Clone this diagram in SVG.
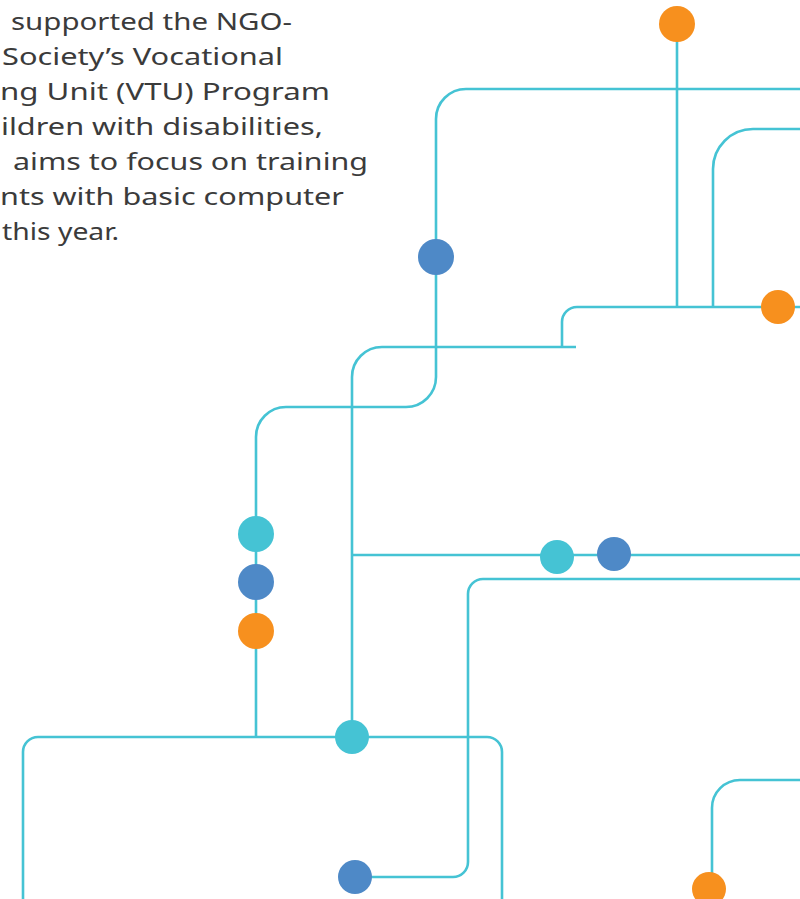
<svg xmlns="http://www.w3.org/2000/svg" width="800" height="899" viewBox="0 0 800 899">
  <style>
    .ln { fill: none; stroke: #45C3D4; stroke-width: 2.6; }
    .cy { fill: #45C3D4; }
    .bl { fill: #4E89C7; }
    .or { fill: #F7901E; }
    .tx { font-family: "Noto Sans", "Open Sans", sans-serif; font-size: 23px; fill: #3B3B3B; }
  </style>
  <rect width="800" height="899" fill="#FFFFFF"/>

  <!-- paragraph, cut at the left edge -->
  <g id="paragraph" class="tx">
    <text x="11" y="30" textLength="281" lengthAdjust="spacingAndGlyphs">supported the NGO-</text>
    <text x="2" y="65" textLength="281" lengthAdjust="spacingAndGlyphs">Society’s Vocational</text>
    <text x="0" y="100" textLength="330" lengthAdjust="spacingAndGlyphs">ng Unit (VTU) Program</text>
    <text x="1" y="135" textLength="322" lengthAdjust="spacingAndGlyphs">ildren with disabilities,</text>
    <text x="13" y="170" textLength="355" lengthAdjust="spacingAndGlyphs">aims to focus on training</text>
    <text x="0" y="205" textLength="344" lengthAdjust="spacingAndGlyphs">nts with basic computer</text>
    <text x="2" y="240" textLength="117" lengthAdjust="spacingAndGlyphs">this year.</text>
  </g>

  <!-- circuit-style line network -->
  <g id="connectors">
    <path class="ln" d="M677 24 V307"/>
    <path class="ln" d="M800 89 H466 A30 30 0 0 0 436 119 V377 A30 30 0 0 1 406 407 H286 A30 30 0 0 0 256 437 V737"/>
    <path class="ln" d="M800 129 H753 A40 40 0 0 0 713 169 V307"/>
    <path class="ln" d="M562 347 V322 A15 15 0 0 1 577 307 H800"/>
    <path class="ln" d="M576 347 H382 A30 30 0 0 0 352 377 V737"/>
    <path class="ln" d="M352 555 H800"/>
    <path class="ln" d="M800 579 H483 A15 15 0 0 0 468 594 V862 A15 15 0 0 1 453 877 H355"/>
    <path class="ln" d="M23 899 V752 A15 15 0 0 1 38 737 H487 A15 15 0 0 1 502 752 V899"/>
    <path class="ln" d="M800 780 H740 A28 28 0 0 0 712 808 V889"/>
  </g>

  <!-- dots on the lines -->
  <g id="dot-top" ><circle class="or" cx="677" cy="24" r="18"/></g>
  <g id="dot-upper-left"><circle class="bl" cx="436" cy="257" r="18"/></g>
  <g id="dot-upper-right"><circle class="or" cx="778" cy="307" r="17"/></g>
  <g id="dot-col-1"><circle class="cy" cx="256" cy="534" r="18"/></g>
  <g id="dot-col-2"><circle class="bl" cx="256" cy="582" r="18"/></g>
  <g id="dot-col-3"><circle class="or" cx="256" cy="631" r="18"/></g>
  <g id="dot-mid-1"><circle class="cy" cx="557" cy="557" r="17"/></g>
  <g id="dot-mid-2"><circle class="bl" cx="614" cy="554" r="17"/></g>
  <g id="dot-junction"><circle class="cy" cx="352" cy="737" r="17"/></g>
  <g id="dot-bottom-left"><circle class="bl" cx="355" cy="877" r="17"/></g>
  <g id="dot-bottom-right"><circle class="or" cx="709" cy="889" r="17"/></g>
</svg>
